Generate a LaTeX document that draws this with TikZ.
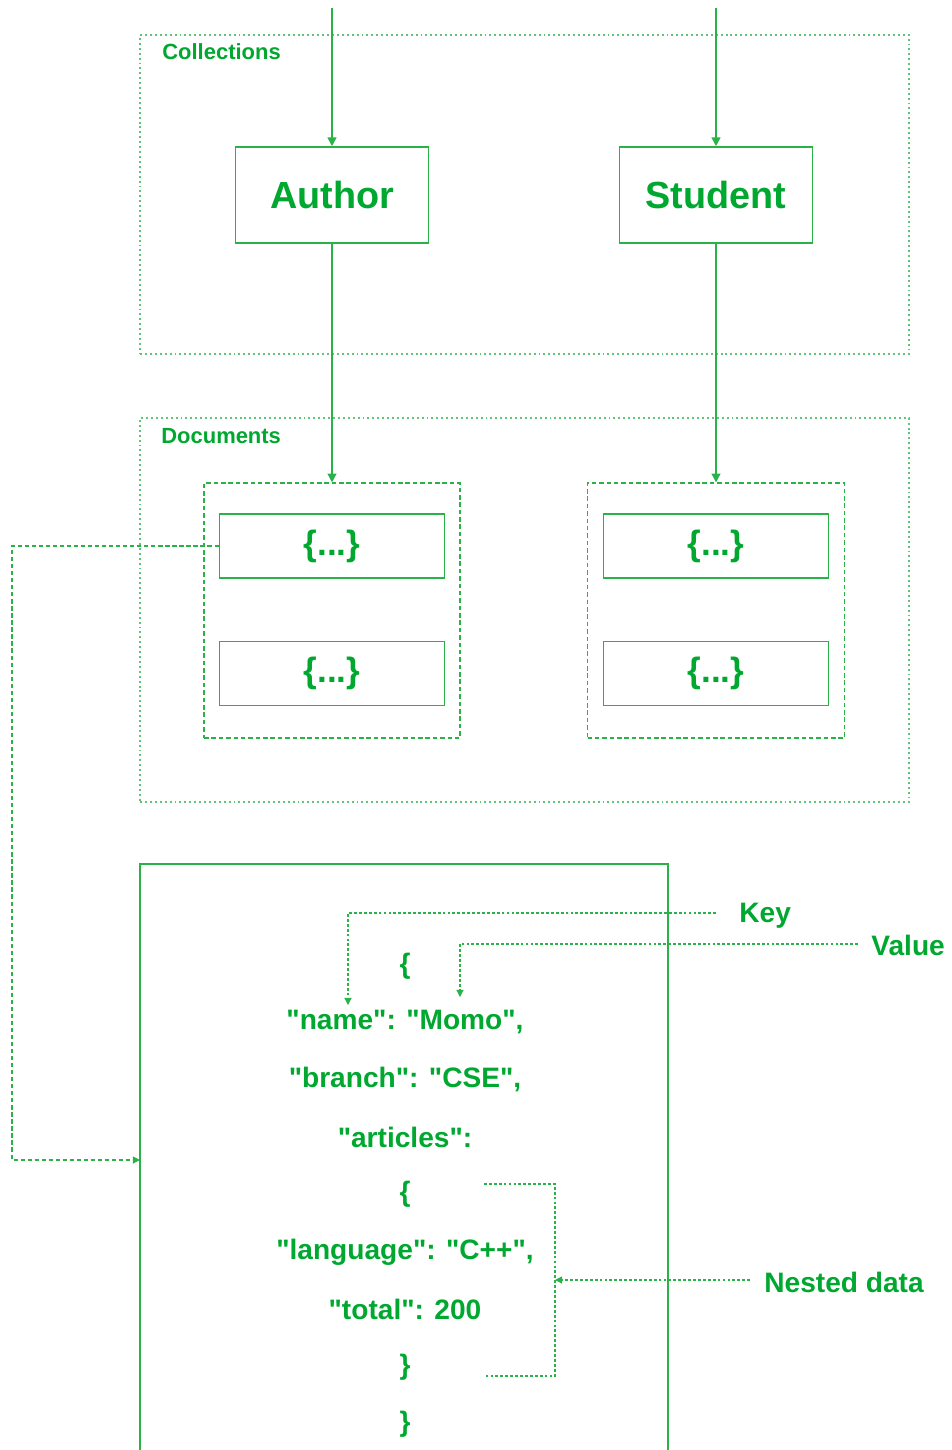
\documentclass[tikz,border=0pt]{standalone}
\usepackage{fontspec}
\newfontfamily\plainfont{Liberation Sans}
\usetikzlibrary{arrows.meta,math}
\definecolor{GeekGreen}{RGB}{0,168,48}
\definecolor{LineGreen}{RGB}{40,178,72}
\tikzset{%
  box/.style={draw=LineGreen, line width=0.9pt, inner sep=0pt, text=GeekGreen},
  coll box/.style={box, minimum width=3.86cm, minimum height=1.92cm, font=\plainfont\fontsize{21.5}{24}\selectfont\bfseries},
  doc box/.style={box, minimum width=4.5cm, minimum height=1.28cm, font=\plainfont\fontsize{20}{22}\selectfont\bfseries},
  dotted frame/.style={draw=LineGreen!75, line width=0.7pt, dash pattern=on 1.1pt off 1.7pt, inner sep=0pt},
  dashed frame/.style={draw=LineGreen, line width=0.7pt, dash pattern=on 2.6pt off 1.6pt, inner sep=0pt},
  frame label/.style={text=GeekGreen, font=\plainfont\fontsize{12.5}{14}\selectfont\bfseries, anchor=west, inner sep=0pt},
  json/.style={text=GeekGreen, font=\plainfont\fontsize{16}{18}\selectfont\bfseries, inner sep=0pt},
  link/.style={draw=LineGreen, line width=0.9pt, -{Triangle[length=5pt,width=5pt]}},
  hint/.style={draw=LineGreen, line width=0.6pt, dash pattern=on 1.6pt off 1.2pt},
  hint tip/.style={hint, -{Triangle[length=4pt,width=4pt]}}
}

\begin{document}
\begin{tikzpicture}[x=0.02cm, y=-0.02cm]
  \useasboundingbox (0,0) rectangle (951,1450);
  \tikzmath{
    \ax=332; \sx=716; % column centres
    \jx=405; % json centre
  }
  % Collections:
  \node[dotted frame, minimum width=15.38cm, minimum height=6.38cm] (collections) at (524.5,194.5) {};
  \node[frame label] (collLabel) at (162,52) {Collections};
  \node[coll box] (author) at (\ax,195) {Author};
  \node[coll box] (student) at (\sx,195) {Student};
  \coordinate (authorIn) at (\ax,8);
  \coordinate (studentIn) at (\sx,8);
  \draw[link] (authorIn) -- (author.north);
  \draw[link] (studentIn) -- (student.north);
  % Documents:
  \node[dotted frame, minimum width=15.38cm, minimum height=7.68cm] (documents) at (524.5,610) {};
  \node[frame label] (docLabel) at (161,436) {Documents};
  \node[dashed frame, minimum width=5.12cm, minimum height=5.1cm] (authorDocs) at (\ax,610.5) {};
  \node[dashed frame, minimum width=5.14cm, minimum height=5.1cm] (studentDocs) at (\sx,610.5) {};
  \draw[link] (author.south) -- (authorDocs.north);
  \draw[link] (student.south) -- (studentDocs.north);
  \foreach \n/\x in {a/\ax, s/\sx} {
    \node[doc box] (\n doc1) at (\x,546) {\{...\}};
    \node[doc box] (\n doc2) at (\x,673.5) {\{...\}};
  }
  % One document:
  \draw[box] (140,1450) -- (140,864) -- (668,864) -- (668,1450);
  \coordinate (jsonIn) at (140,1160);
  \coordinate (bend1) at (12,546);
  \coordinate (bend2) at (12,1160);
  \draw[hint tip, dash pattern=on 2.4pt off 1.6pt] (adoc1.west) -- (bend1) -- (bend2) -- (jsonIn);
  \foreach \y/\t [count=\i] in {966/\{, 1022/{"name": "Momo",}, 1079/{"branch": "CSE",},
      1137/{"articles":}, 1194/\{, 1252/{"language": "C++",}, 1309/{"total": 200},
      1367/\}, 1424/\}} {
    \node[json] (line\i) at (\jx,\y) {\t};
  }
  % Key, value, nested data:
  \node[json, anchor=west] (key) at (739,916) {Key};
  \node[json, anchor=west] (value) at (871,945) {Value};
  \node[json, anchor=west] (nested) at (764,1282) {Nested data};
  \coordinate (keyTip) at (348,1005);
  \coordinate (valueTip) at (460,997);
  \coordinate (nestTip) at (555,1280);
  \draw[hint tip, shorten <=0.46cm] (key.west |- 0,913) -| (keyTip);
  \draw[hint tip, shorten <=0.26cm] (value.west |- 0,944) -| (valueTip);
  \draw[hint tip, shorten <=0.28cm] (nested.west |- 0,1280) -- (nestTip);
  \draw[hint] (484,1184) -- (555,1184) -- (555,1376) -- (484,1376);
\end{tikzpicture}
\end{document}
